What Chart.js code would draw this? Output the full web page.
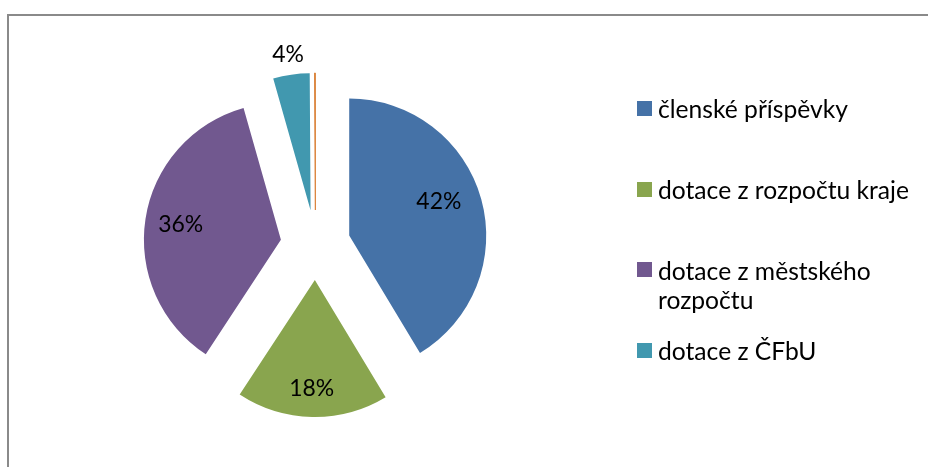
<!DOCTYPE html>
<html><head><meta charset="utf-8">
<script src="https://cdn.jsdelivr.net/npm/chart.js@4/dist/chart.umd.min.js"></script>
<style>
html,body{margin:0;padding:0;background:#fff;width:928px;height:467px;overflow:hidden}
#frame{position:absolute;left:7px;top:14px;width:1000px;height:1000px;border-left:2px solid #8a8a8a;border-top:2px solid #8a8a8a;box-sizing:border-box}
#wrap{position:absolute;left:0;top:0;width:928px;height:467px}
</style></head><body>
<div id="frame"></div>
<div id="wrap"><canvas id="c" width="928" height="467"></canvas></div>
<script>
// ---- data ----
const categories = ['členské příspěvky', 'dotace z rozpočtu kraje', ['dotace z městského', 'rozpočtu'], 'dotace z ČFbU', ''];
const values = [41.4, 17.9, 36.4, 4.3, 0.1];
const percentLabels = ['42%', '18%', '36%', '4%', ''];
const colors = ['#4572A7', '#89A54E', '#71588F', '#4198AF', '#DB843D'];
const inLegend = [true, true, true, true, false];

// ---- layout / style constants ----
const R = 137;            // pie radius
const EXPLODE = 35;       // explosion distance of every slice
const labelFrac = [0.70, 0.79, 0.74, 1.148, 0];
const labelShiftDeg = [-5.25, 0.6, -0.25, -0.15, 0];
const FONT = 'Lato, "Open Sans", sans-serif';

function fitSize(ctx, text, target) {
  ctx.font = '100px ' + FONT;
  return 100 * target / ctx.measureText(text).width;
}

// explode each slice along its bisector (moves the arc element's centre)
const explode = {
  id: 'explode',
  beforeDatasetsDraw(chart) {
    const a = chart.chartArea;
    const cx = (a.left + a.right) / 2, cy = (a.top + a.bottom) / 2;
    chart.getDatasetMeta(0).data.forEach(arc => {
      const mid = (arc.startAngle + arc.endAngle) / 2;
      arc.x = cx + Math.cos(mid) * EXPLODE;
      arc.y = cy + Math.sin(mid) * EXPLODE;
    });
  }
};

const pctLabels = {
  id: 'pctLabels',
  afterDatasetsDraw(chart) {
    const ctx = chart.ctx;
    const meta = chart.getDatasetMeta(0);
    const size = fitSize(ctx, '42%', 45);
    ctx.save();
    ctx.font = size.toFixed(2) + 'px ' + FONT;
    ctx.fillStyle = '#000';
    ctx.textAlign = 'center';
    ctx.textBaseline = 'middle';
    meta.data.forEach((arc, i) => {
      if (!percentLabels[i]) return;
      const mid = (arc.startAngle + arc.endAngle) / 2;
      const a = mid + labelShiftDeg[i] * Math.PI / 180;
      const r = labelFrac[i] * arc.outerRadius;
      ctx.fillText(percentLabels[i], arc.x + Math.cos(a) * r, arc.y + Math.sin(a) * r);
    });
    ctx.restore();
  }
};

const sideLegend = {
  id: 'sideLegend',
  afterDraw(chart) {
    const ctx = chart.ctx;
    const size = fitSize(ctx, 'dotace z rozpočtu kraje', 251);
    const boxX = 637, box = 15, textX = 658, firstY = 108.5, stepY = 80.6, lineH = 29;
    ctx.save();
    ctx.font = size.toFixed(2) + 'px ' + FONT;
    ctx.textBaseline = 'middle';
    ctx.textAlign = 'left';
    let k = 0;
    chart.data.labels.forEach((lab, i) => {
      if (!inLegend[i]) return;
      const y = firstY + k * stepY;
      ctx.fillStyle = chart.data.datasets[0].backgroundColor[i];
      ctx.fillRect(boxX, Math.round(y - box / 2), box, box);
      ctx.fillStyle = '#000';
      const lines = Array.isArray(lab) ? lab : [lab];
      lines.forEach((t, j) => ctx.fillText(t, textX, y + 2 + j * lineH));
      k++;
    });
    ctx.restore();
  }
};

new Chart(document.getElementById('c'), {
  type: 'pie',
  data: {
    labels: categories,
    datasets: [{
      data: values,
      backgroundColor: colors,
      borderColor: colors,
      borderWidth: [0, 0, 0, 0, 1],
      offset: 0
    }]
  },
  options: {
    responsive: false,
    animation: false,
    radius: R,
    layout: { padding: { left: 0, right: 297, top: 23, bottom: 0 } },
    plugins: { legend: { display: false }, tooltip: { enabled: false } }
  },
  plugins: [explode, pctLabels, sideLegend]
});
</script>
</body></html>
